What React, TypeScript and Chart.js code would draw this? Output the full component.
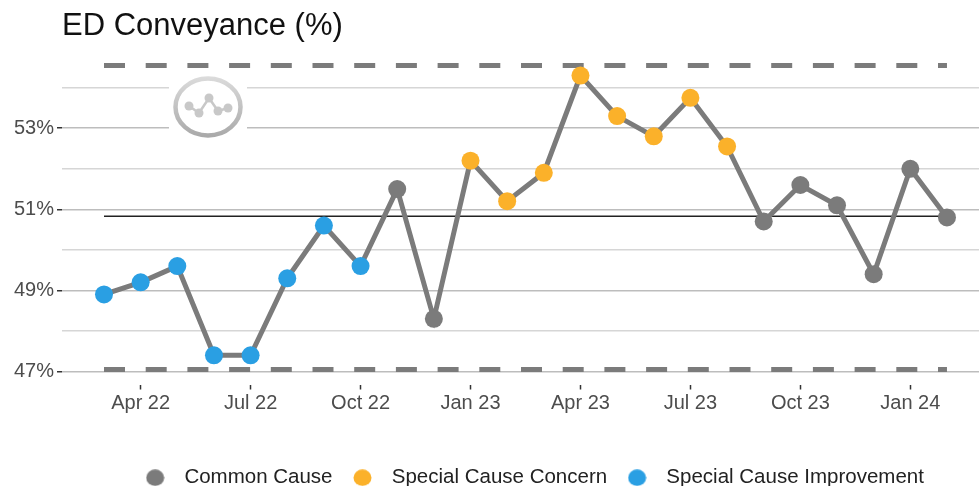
import React, { useEffect, useRef } from "react";
import { Chart, registerables } from "chart.js";

Chart.register(...registerables);

const months = ["Mar 22","Apr 22","May 22","Jun 22","Jul 22","Aug 22","Sep 22","Oct 22","Nov 22","Dec 22","Jan 23","Feb 23","Mar 23","Apr 23","May 23","Jun 23","Jul 23","Aug 23","Sep 23","Oct 23","Nov 23","Dec 23","Jan 24","Feb 24"];
const conveyance = [48.9,49.2,49.6,47.4,47.4,49.3,50.6,49.6,51.5,48.3,52.2,51.2,51.9,54.3,53.3,52.8,53.75,52.55,50.7,51.6,51.1,49.4,52.0,50.8];
const statuses = ["I","I","I","I","I","I","I","I","C","C","W","W","W","W","W","W","W","W","C","C","C","C","C","C"];
const statusNames: Record<string, string> = { C: "Common Cause", W: "Special Cause Concern", I: "Special Cause Improvement" };
const statusColors: Record<string, string> = { C: "#7B7B7B", W: "#FBB12A", I: "#2A9FE3" };
const statusOrder = ["C", "W", "I"];
const meanValue = 50.83;
const upperLimit = 54.55;
const lowerLimit = 47.05;
const yTicks = [47, 48, 49, 50, 51, 52, 53, 54];
const xTickMonths = ["Apr 22","Jul 22","Oct 22","Jan 23","Apr 23","Jul 23","Oct 23","Jan 24"];

const FONT = "'Liberation Sans', Arial, sans-serif";

function circleImage(color: string) {
  const c = document.createElement("canvas");
  c.width = 19;
  c.height = 17;
  const g = c.getContext("2d")!;
  g.fillStyle = color;
  g.beginPath();
  g.ellipse(9.5, 8.5, 9, 8.2, 0, 0, Math.PI * 2);
  g.fill();
  return c;
}

const spcLogo = {
  id: "spcLogo",
  beforeDatasetsDraw(chart: any) {
    const { ctx } = chart;
    ctx.save();
    ctx.fillStyle = "#fff";
    ctx.fillRect(169, 70, 78, 72);
    ctx.beginPath();
    ctx.ellipse(208, 107, 32.5, 28.5, 0, 0, Math.PI * 2);
    ctx.fillStyle = "#fff";
    ctx.fill();
    const grad = ctx.createLinearGradient(0, 76, 0, 138);
    grad.addColorStop(0, "#dcdcdc");
    grad.addColorStop(1, "#a8a8a8");
    ctx.strokeStyle = grad;
    ctx.lineWidth = 4.5;
    ctx.stroke();
    const dots = [[189, 106], [199, 113], [209, 98], [218, 111], [228, 108]];
    ctx.strokeStyle = "#c8c8c8";
    ctx.lineWidth = 2.5;
    ctx.beginPath();
    dots.forEach(([x, y], i) => (i ? ctx.lineTo(x, y) : ctx.moveTo(x, y)));
    ctx.stroke();
    ctx.fillStyle = "#c8c8c8";
    dots.forEach(([x, y]) => {
      ctx.beginPath();
      ctx.arc(x, y, 4.5, 0, Math.PI * 2);
      ctx.fill();
    });
    ctx.restore();
  },
};

const legendShift = {
  id: "legendShift",
  afterLayout(chart: any) {
    const l = chart.legend;
    l.left += 9.5;
    l.right += 9.5;
    l.top += 12;
    l.bottom += 12;
    l.adjustHitBoxes();
  },
};

export default function App() {
  const ref = useRef<HTMLCanvasElement>(null);
  useEffect(() => {
    const points = (code: string) =>
      conveyance.map((y, x) => ({ x, y })).filter((_, i) => statuses[i] === code);
    const ends = (y: number) => [{ x: 0, y }, { x: months.length - 1, y }];
    const chart = new Chart(ref.current!, {
      type: "line",
      data: {
        datasets: [
          ...statusOrder.map((code) => ({
            label: statusNames[code],
            data: points(code),
            showLine: false,
            pointRadius: 9,
            pointHoverRadius: 9,
            pointBorderWidth: 0,
            pointBackgroundColor: statusColors[code],
            order: 0,
          })),
          { label: "Measure", data: conveyance.map((y, x) => ({ x, y })), borderColor: "#7B7B7B", borderWidth: 5, pointRadius: 0, tension: 0, order: 1 },
          { label: "Mean", data: ends(meanValue), borderColor: "#222", borderWidth: 1.5, pointRadius: 0, order: 2 },
          { label: "Upper limit", data: ends(upperLimit), borderColor: "#7B7B7B", borderWidth: 5, borderDash: [21, 20.7], pointRadius: 0, order: 2 },
          { label: "Lower limit", data: ends(lowerLimit), borderColor: "#7B7B7B", borderWidth: 5, borderDash: [21, 20.7], pointRadius: 0, order: 2 },
        ] as any,
      },
      options: {
        responsive: false,
        animation: false,
        layout: { padding: 0, autoPadding: false },
        scales: {
          x: {
            type: "linear",
            min: -1.146,
            max: 23.874,
            afterBuildTicks: (s: any) => {
              s.ticks = xTickMonths.map((m) => ({ value: months.indexOf(m) }));
            },
            afterFit: (s: any) => {
              s.height = 60;
              s.paddingLeft = 0;
              s.paddingRight = 0;
            },
            grid: { drawOnChartArea: false, drawTicks: true, tickLength: 5, tickColor: "#333", tickWidth: 1.5 },
            border: { display: false },
            ticks: {
              autoSkip: false,
              maxRotation: 0,
              padding: 2,
              color: "#4D4D4D",
              font: { family: FONT, size: 20 },
              callback: (v: any) => months[v as number],
            },
          },
          y: {
            type: "linear",
            min: 46.68,
            max: 54.88,
            afterBuildTicks: (s: any) => {
              s.ticks = yTicks.map((value) => ({ value }));
            },
            afterFit: (s: any) => {
              s.width = 62;
              s.paddingTop = 0;
              s.paddingBottom = 0;
            },
            grid: {
              color: (c: any) => (c.tick && c.tick.value % 2 === 1 ? "#BDBDBD" : "#D6D6D6"),
              tickColor: (c: any) => (c.tick && c.tick.value % 2 === 1 ? "#333" : "rgba(0,0,0,0)"),
              lineWidth: 1.5,
              tickLength: 5,
            },
            border: { display: false },
            ticks: {
              padding: 3,
              color: "#4D4D4D",
              font: { family: FONT, size: 20 },
              callback: (v: any) => (v % 2 === 1 ? `${v}%` : ""),
            },
          },
        },
        plugins: {
          tooltip: { enabled: false },
          title: {
            display: true,
            text: "ED Conveyance (%)",
            align: "start",
            fullSize: false,
            color: "#111",
            font: { family: FONT, size: 31, weight: "normal" },
            padding: { top: 8, bottom: 6.8 },
          },
          legend: {
            position: "bottom",
            fullSize: false,
            labels: {
              usePointStyle: true,
              pointStyleWidth: 38,
              padding: 11,
              color: "#222",
              font: { family: FONT, size: 20.5 },
              generateLabels: () =>
                statusOrder.map((code, i) => ({
                  text: statusNames[code],
                  pointStyle: circleImage(statusColors[code]),
                  fontColor: "#222",
                  strokeStyle: "rgba(0,0,0,0)",
                  lineWidth: 0,
                  datasetIndex: i,
                })) as any,
            },
          },
        },
      } as any,
      plugins: [spcLogo, legendShift],
    });
    return () => chart.destroy();
  }, []);
  return (
    <div style={{ position: "fixed", left: 0, top: 0, width: 979, height: 486, background: "#fff" }}>
      <canvas ref={ref} width={979} height={486} style={{ display: "block" }} />
    </div>
  );
}
